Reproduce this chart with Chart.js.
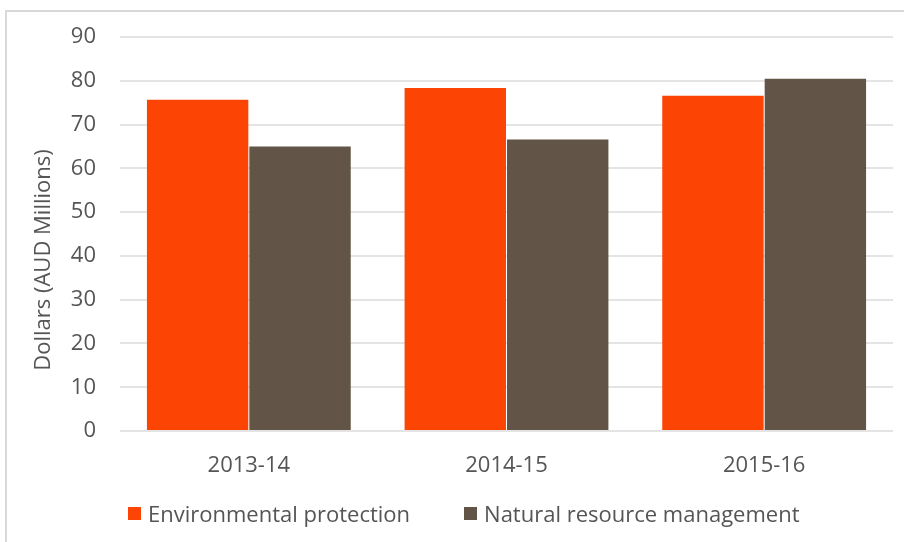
<!DOCTYPE html>
<html>
<head>
<meta charset="utf-8">
<script src="https://cdn.jsdelivr.net/npm/chart.js@4.4.1/dist/chart.umd.min.js"></script>
<style>
  html, body { margin: 0; padding: 0; background: #fff; }
  #frame {
    position: absolute; left: 5px; top: 10px; width: 920px; height: 560px;
    border: 2px solid #d9d9d9; background: #fff;
  }
  #wrap { position: absolute; left: 0; top: 0; width: 904px; height: 542px; }
  #legend {
    position: absolute; left: 128px; top: 498px; height: 30px;
    display: flex; align-items: center;
    font: 22px "Open Sans", "Noto Sans", sans-serif; color: #555555;
    white-space: nowrap;
  }
  #legend .item { display: flex; align-items: center; margin-right: 54px; }
  #legend .swatch { width: 13px; height: 13px; margin-right: 7px; }
</style>
</head>
<body>
<div id="frame"></div>
<div id="wrap"><canvas id="spendChart" width="904" height="542"></canvas></div>
<div id="legend"></div>
<script>
const years = ['2013-14', '2014-15', '2015-16'];
const envProtection = [75.7, 78.4, 76.6];
const naturalResources = [65.0, 66.6, 80.5];
const seriesNames = ['Environmental protection', 'Natural resource management'];
const seriesColors = ['#fc4404', '#625548'];
const yTitle = 'Dollars (AUD Millions)';

const textColor = '#555555';
const fontFamily = '"Open Sans", "Noto Sans", sans-serif';

// rotated axis title, placed by hand
const yTitlePlugin = {
  id: 'yTitle',
  afterDraw(chart) {
    const ctx = chart.ctx;
    ctx.save();
    ctx.translate(44, 260);
    ctx.rotate(-Math.PI / 2);
    ctx.font = '22px ' + fontFamily;
    ctx.fillStyle = textColor;
    ctx.textAlign = 'center';
    ctx.textBaseline = 'middle';
    ctx.fillText(yTitle, 0, 0);
    ctx.restore();
  }
};

chart = new Chart(document.getElementById('spendChart').getContext('2d'), {
  type: 'bar',
  data: {
    labels: years,
    datasets: [{
      label: seriesNames[0],
      data: envProtection,
      backgroundColor: seriesColors[0]
    }, {
      label: seriesNames[1],
      data: naturalResources,
      backgroundColor: seriesColors[1]
    }]
  },
  options: {
    responsive: false,
    animation: false,
    categoryPercentage: 0.795,
    barPercentage: 0.99,
    layout: { padding: { left: 0, right: 11, top: 31, bottom: 61 } },
    plugins: {
      legend: { display: false },
      tooltip: { enabled: false }
    },
    scales: {
      x: {
        grid: { display: false },
        border: { display: false },
        ticks: {
          color: textColor,
          padding: 14,
          font: { family: fontFamily, size: 22 }
        },
        afterFit(scale) { scale.height = 50; }
      },
      y: {
        min: 0,
        max: 90,
        ticks: {
          stepSize: 10,
          color: textColor,
          padding: 24,
          font: { family: fontFamily, size: 22 }
        },
        grid: { color: '#e4e4e4', lineWidth: 2, drawTicks: false },
        border: { display: false },
        afterFit(scale) { scale.width = 120; }
      }
    }
  },
  plugins: [yTitlePlugin]
});

// legend built from the chart's datasets
function renderLegend() {
  const box = document.getElementById('legend');
  box.innerHTML = '';
  chart.data.datasets.forEach(ds => {
    const item = document.createElement('span');
    item.className = 'item';
    item.innerHTML = `<span class="swatch" style="background:${ds.backgroundColor}"></span>${ds.label}`;
    box.appendChild(item);
  });
}

renderLegend();
</script>
</body>
</html>
